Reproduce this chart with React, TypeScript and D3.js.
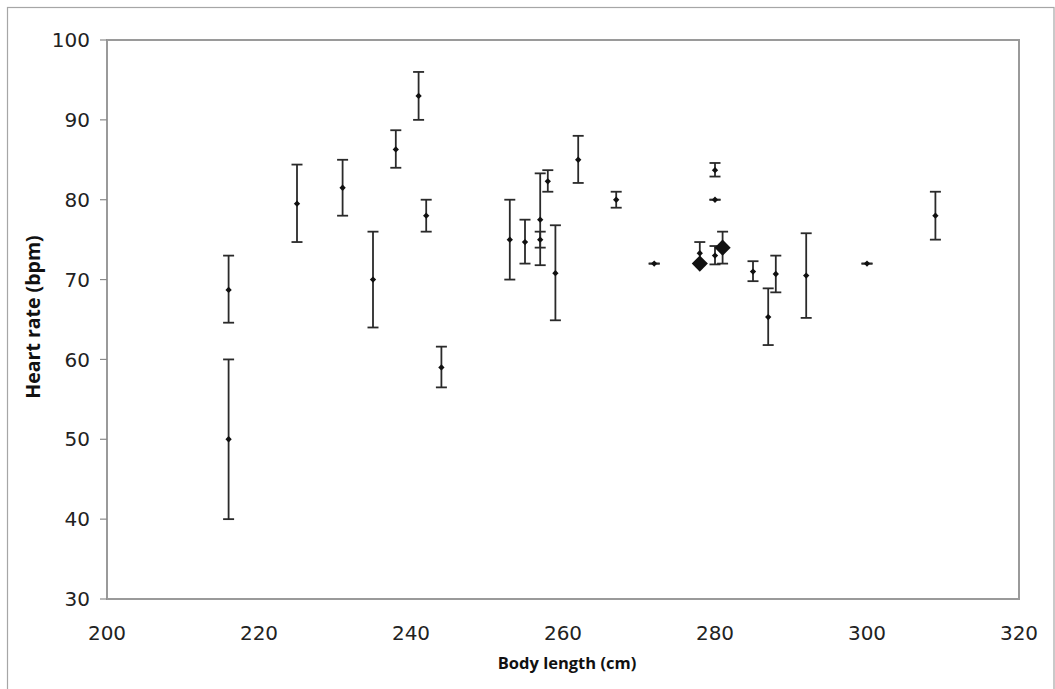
import React from 'react';
import * as d3 from 'd3';

// individual animals: body length (cm), mean heart rate and error bar limits (bpm)
const lengths = [216, 216, 225, 231, 235, 238, 241, 242, 244, 253, 255, 257, 257, 258, 259, 262, 267, 272, 278, 280, 280, 280, 285, 287, 288, 292, 300, 309];
const rates = [50, 68.7, 79.5, 81.5, 70, 86.3, 93, 78, 59, 75, 74.7, 77.5, 75, 82.3, 70.8, 85, 80, 72, 73.3, 83.7, 80, 73, 71, 65.3, 70.7, 70.5, 72, 78];
const lower = [40, 64.6, 74.7, 78, 64, 84, 90, 76, 56.5, 70, 72, 71.8, 74, 81, 64.9, 82.1, 79, 72, 71.9, 82.9, 80, 71.9, 69.8, 61.8, 68.4, 65.2, 72, 75];
const upper = [60, 73, 84.4, 85, 76, 88.7, 96, 80, 61.6, 80, 77.5, 83.3, 76, 83.7, 76.8, 88, 81, 72, 74.7, 84.6, 80, 74.2, 72.3, 68.9, 73, 75.8, 72, 81];

// group means (large diamonds)
const meanLengths = [278, 281];
const meanRates = [72, 74];
const meanLower = [72, 72];
const meanUpper = [72, 76];

const xTicks = [200, 220, 240, 260, 280, 300, 320];
const yTicks = [30, 40, 50, 60, 70, 80, 90, 100];

const W = 1055;
const H = 689;
const plot = { left: 107, top: 40, right: 1019, bottom: 599 };

const tickFont = '"DejaVu Sans", Verdana, sans-serif';
const labelFont = '"Open Sans", "DejaVu Sans", sans-serif';

export default function App() {
    const x = d3.scaleLinear().domain([200, 320]).range([plot.left, plot.right]);
    const y = d3.scaleLinear().domain([30, 100]).range([plot.bottom, plot.top]);

    const small = d3.symbol(d3.symbolSquare, 20)();
    const big = d3.symbol(d3.symbolSquare, 130)();
    const cap = 5.5;

    const errorBar = (cx: number, lo: number, hi: number, key: string) => (
        <g key={key} stroke="#2a2a2a" strokeWidth={1.8}>
            <line x1={x(cx)} x2={x(cx)} y1={y(lo)} y2={y(hi)} />
            <line x1={x(cx) - cap} x2={x(cx) + cap} y1={y(lo)} y2={y(lo)} />
            <line x1={x(cx) - cap} x2={x(cx) + cap} y1={y(hi)} y2={y(hi)} />
        </g>
    );

    return (
        <svg width={W} height={H} style={{ position: 'absolute', left: 0, top: 0, background: '#fff' }}>
            <rect x={7.5} y={7.5} width={1046.5} height={H + 20} fill="#fff" stroke="#a6a6a6" strokeWidth={1.2} />

            <rect x={plot.left} y={plot.top} width={plot.right - plot.left} height={plot.bottom - plot.top}
                fill="none" stroke="#9a9a9a" strokeWidth={2} />

            {yTicks.map(t => (
                <g key={'y' + t}>
                    <line x1={plot.left - 7} x2={plot.left} y1={y(t)} y2={y(t)} stroke="#8a8a8a" strokeWidth={1.2} />
                    <text x={90} y={y(t)} dy="0.36em" textAnchor="end" fontFamily={tickFont} fontSize={20} fill="#222">{t}</text>
                </g>
            ))}
            {xTicks.map(t => (
                <text key={'x' + t} x={x(t)} y={640} textAnchor="middle" fontFamily={tickFont} fontSize={20} fill="#222">{t}</text>
            ))}

            <text x={567} y={669} textAnchor="middle" fontFamily={labelFont} fontWeight="bold" fontSize={16.5} fill="#111">Body length (cm)</text>
            <text transform="translate(40,317) rotate(-90)" textAnchor="middle" fontFamily={labelFont} fontWeight="bold" fontSize={19.5} fill="#111">Heart rate (bpm)</text>

            {lengths.map((l, i) => errorBar(l, lower[i], upper[i], 'e' + i))}
            {lengths.map((l, i) => (
                <path key={'p' + i} d={small} transform={`translate(${x(l)},${y(rates[i])}) rotate(45)`} fill="#111" />
            ))}

            {meanLengths.map((l, i) => errorBar(l, meanLower[i], meanUpper[i], 'me' + i))}
            {meanLengths.map((l, i) => (
                <path key={'m' + i} d={big} transform={`translate(${x(l)},${y(meanRates[i])}) rotate(45)`} fill="#111" />
            ))}
        </svg>
    );
}
